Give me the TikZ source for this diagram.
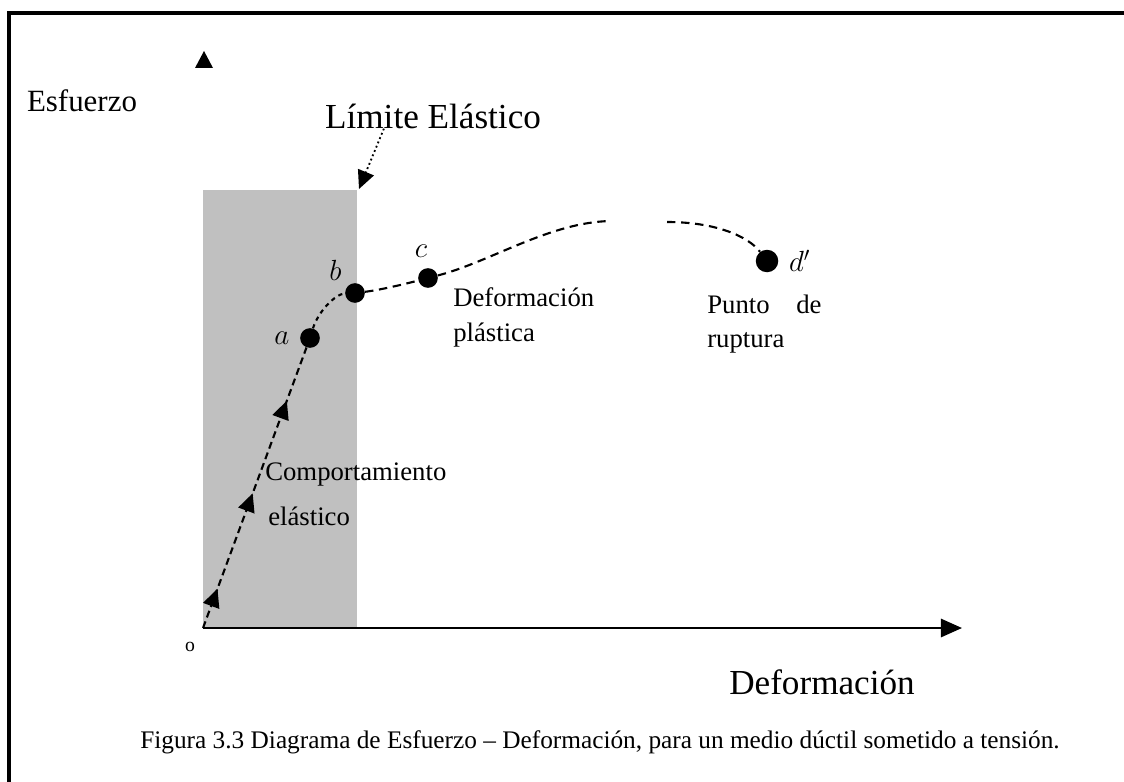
\documentclass[tikz,border=0pt]{standalone}
\usepackage{fontspec}
\setmainfont{Liberation Serif}
\usetikzlibrary{positioning, arrows.meta, decorations.markings}
\definecolor{zonagris}{RGB}{192,192,192}

\begin{document}
\begin{tikzpicture}[x=0.025cm, y=-0.025cm,
    punto/.style={circle, fill=black, inner sep=0pt, minimum size=14pt},
    etiq/.style={font=\fontsize{19}{21}\selectfont, anchor=west, inner sep=0pt},
    eje/.style={font=\fontsize{25}{27}\selectfont, inner sep=0pt},
    curva/.style={line width=1.5pt, dash pattern=on 6pt off 4pt},
    flechas/.style={postaction={decorate}, decoration={markings,
        mark=at position 0.14 with {\arrow{Triangle[width=12pt,length=13pt]}},
        mark=at position 0.48 with {\arrow{Triangle[width=12pt,length=13pt]}},
        mark=at position 0.81 with {\arrow{Triangle[width=12pt,length=13pt]}}}}]
    \useasboundingbox (0,0) rectangle (1124,782);
    \clip (0,0) rectangle (1124,782);
    \fill[white] (0,0) rectangle (1124,782);
    % marco
    \draw[line width=2.2pt] (9,800) -- (9,13) -- (1140,13);
    % zona elastica
    \fill[zonagris] (203,190) rectangle (357,628);
    \coordinate (esquina) at (359,189);
    \coordinate (O) at (203,628);
    \coordinate (finx) at (962,628);
    \coordinate (cima1) at (611,221);
    \coordinate (cima2) at (667,222);
    \node [punto] (a) at (310,338) {};
    \node [punto] (b) at (355,293) {};
    \node [punto] (c) at (428,278) {};
    \node [punto, minimum size=16pt] (d) at (767,261) {};
    % ejes
    \draw[line width=1.5pt, -{Triangle[width=13pt,length=15pt]}] (O) -- (finx);
    \fill (204,51) -- (195,68) -- (213,68) -- cycle;
    % curva
    \draw[curva, dash pattern=on 5pt off 3pt, flechas] (O) -- (a);
    \draw[curva, dash pattern=on 3pt off 3pt] (a) .. controls (318,312) and (335,294) .. (b);
    \draw[curva] (b) .. controls (380,290) and (405,284) .. (c);
    \draw[curva] (c) .. controls (490,262) and (550,222) .. (cima1);
    \draw[curva] (cima2) .. controls (715,222) and (748,236) .. (d);
    % textos
    \node [eje, font=\fontsize{22}{24}\selectfont] (esf) at (82,101) {Esfuerzo};
    \node [eje] (limite) at (433,116) {Límite Elástico};
    \node [eje] (def) at (822,682) {Deformación};
    \node [font=\fontsize{14}{16}\selectfont] (orig) at (190,647) {o};
    \draw[line width=1.3pt, dotted, -{Triangle[width=12pt,length=13pt]}]
        ([xshift=42pt]limite.south west) -- (esquina);
    \node [etiq] (comp1) at (265,474) {Comportamiento};
    \node [etiq] (comp2) at (268,516) {elástico};
    \node [etiq] (plas1) at (453,297) {Deformación};
    \node [etiq] (plas2) at (453,335) {plástica};
    \node [etiq] (rup1) at (707,304) {Punto\quad de};
    \node [etiq] (rup2) at (707,343) {ruptura};
    \node [font=\fontsize{20}{22}\selectfont, left=4pt of a] (la) {$a$};
    \node [font=\fontsize{20}{22}\selectfont, above left=0pt and 1pt of b] (lb) {$b$};
    \node [font=\fontsize{20}{22}\selectfont, above=4pt of c, xshift=-5pt] (lc) {$c$};
    \node [font=\fontsize{20}{22}\selectfont, right=4pt of d] (ld) {$d'$};
    \node [font=\fontsize{18}{20}\selectfont] (pie) at (600,742)
        {Figura 3.3 Diagrama de Esfuerzo – Deformación, para un medio dúctil sometido a tensión.};
\end{tikzpicture}
\end{document}
